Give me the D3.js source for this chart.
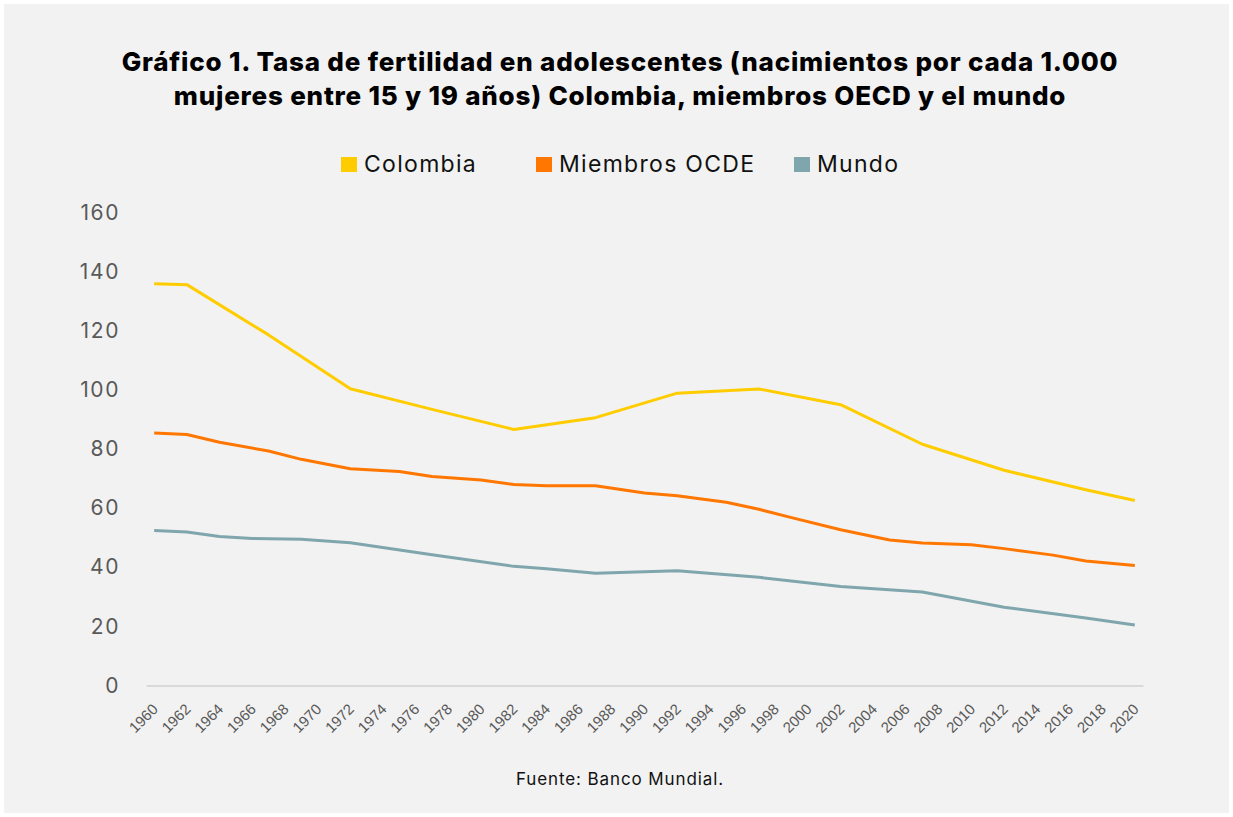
<!DOCTYPE html>
<meta charset="utf-8">
<style>
body { margin: 0; background: #ffffff; }
svg { display: block; }
</style>
<body>
<svg id="chart"></svg>
<script src="https://d3js.org/d3.v7.min.js"></script>
<script>
// years covered by the category axis
var years = d3.range(1960, 2021);
var tickYears = d3.range(1960, 2021, 2);
var yTicks = [0, 20, 40, 60, 80, 100, 120, 140, 160];

// values: [year, births per 1000 women 15-19]
var colombia = [[1960,135.9],[1962,135.6],[1967,118.6],[1972,100.4],[1977,93.4],[1982,86.6],
  [1987,90.6],[1992,98.9],[1997,100.3],[2002,95.0],[2007,81.6],[2012,72.8],[2017,66.2],[2020,62.6]];
var ocde = [[1960,85.4],[1962,84.9],[1964,82.3],[1967,79.3],[1969,76.5],[1972,73.3],[1975,72.4],
  [1977,70.7],[1980,69.5],[1982,68.0],[1984,67.6],[1987,67.6],[1990,65.1],[1992,64.2],[1995,62.0],
  [1997,59.6],[1999,56.8],[2002,52.7],[2005,49.2],[2007,48.2],[2010,47.6],[2012,46.3],[2015,44.1],
  [2017,42.1],[2020,40.6]];
var mundo = [[1960,52.4],[1962,51.9],[1964,50.4],[1966,49.7],[1969,49.5],[1972,48.3],[1977,44.2],
  [1982,40.3],[1984,39.5],[1987,38.0],[1992,38.8],[1997,36.6],[2002,33.5],[2007,31.6],[2012,26.5],
  [2017,22.8],[2020,20.5]];

var seriesNames = ["Colombia", "Miembros OCDE", "Mundo"];
var seriesColors = ["#ffcc00", "#ff7700", "#7fa6ad"];
var seriesData = [colombia, ocde, mundo];

var W = 1233, H = 817;
var svg = d3.select("#chart").attr("width", W).attr("height", H);

svg.append("rect")
    .attr("x", 4).attr("y", 4)
    .attr("width", W - 8).attr("height", H - 8)
    .attr("fill", "#f2f2f2");

// title
var title = svg.append("text")
    .attr("text-anchor", "middle")
    .attr("font-family", "Inter")
    .attr("font-weight", 800)
    .attr("font-size", "26px")
    .attr("letter-spacing", "0.8px")
    .attr("fill", "#000");
title.append("tspan").attr("x", 620).attr("y", 71)
    .text("Gráfico 1. Tasa de fertilidad en adolescentes (nacimientos por cada 1.000");
title.append("tspan").attr("x", 620).attr("y", 105)
    .text("mujeres entre 15 y 19 años) Colombia, miembros OECD y el mundo");

// scales
var x = d3.scaleBand()
    .domain(years)
    .range([146, 1143]);

var y = d3.scaleLinear()
    .domain([0, 160])
    .range([685.5, 212.5]);

// y axis labels (no line)
var yAxis = d3.axisLeft(y).tickValues(yTicks).tickSize(0).tickPadding(0);
var gy = svg.append("g")
    .attr("transform", "translate(120,0)")
    .call(yAxis);
gy.select(".domain").remove();
gy.selectAll("text")
    .attr("font-family", "Inter")
    .attr("font-size", "21px")
    .attr("letter-spacing", "1.6px")
    .attr("fill", "#595959");

// x axis
var xAxis = d3.axisBottom(x).tickValues(tickYears).tickSize(0).tickPadding(0);
var gx = svg.append("g")
    .attr("transform", "translate(0," + y(0) + ")")
    .call(xAxis);
gx.select(".domain")
    .attr("stroke", "#d9d9d9")
    .attr("stroke-width", 2);
gx.selectAll("text")
    .attr("font-family", "Liberation Sans")
    .attr("font-size", "15px")
    .attr("fill", "#595959")
    .attr("text-anchor", "end")
    .attr("dy", "0.35em")
    .attr("transform", "translate(1,21) rotate(-45)")
    .attr("y", 0);

// lines
var line = d3.line()
    .x(function(d) { return x(d[0]) + x.bandwidth() / 2; })
    .y(function(d) { return y(d[1]); });

seriesData.forEach(function(s, i) {
  svg.append("path")
      .datum(s)
      .attr("fill", "none")
      .attr("stroke", seriesColors[i])
      .attr("stroke-width", 3)
      .attr("stroke-linejoin", "round")
      .attr("d", line);
});

// legend
var legendX = [341, 536, 794];
var legend = svg.selectAll(".legend")
    .data(seriesNames)
  .enter().append("g")
    .attr("class", "legend")
    .attr("transform", function(d, i) { return "translate(" + legendX[i] + ",157)"; });
legend.append("rect")
    .attr("width", 16).attr("height", 15)
    .attr("fill", function(d, i) { return seriesColors[i]; });
legend.append("text")
    .attr("x", 23).attr("y", 15)
    .attr("font-family", "Inter")
    .attr("font-size", "23px")
    .attr("letter-spacing", "1.3px")
    .attr("fill", "#111")
    .text(function(d) { return d; });

// source
svg.append("text")
    .attr("x", 620).attr("y", 785)
    .attr("text-anchor", "middle")
    .attr("font-family", "Inter")
    .attr("font-size", "17px")
    .attr("letter-spacing", "0.9px")
    .attr("fill", "#111")
    .text("Fuente: Banco Mundial.");
</script>
</body>
